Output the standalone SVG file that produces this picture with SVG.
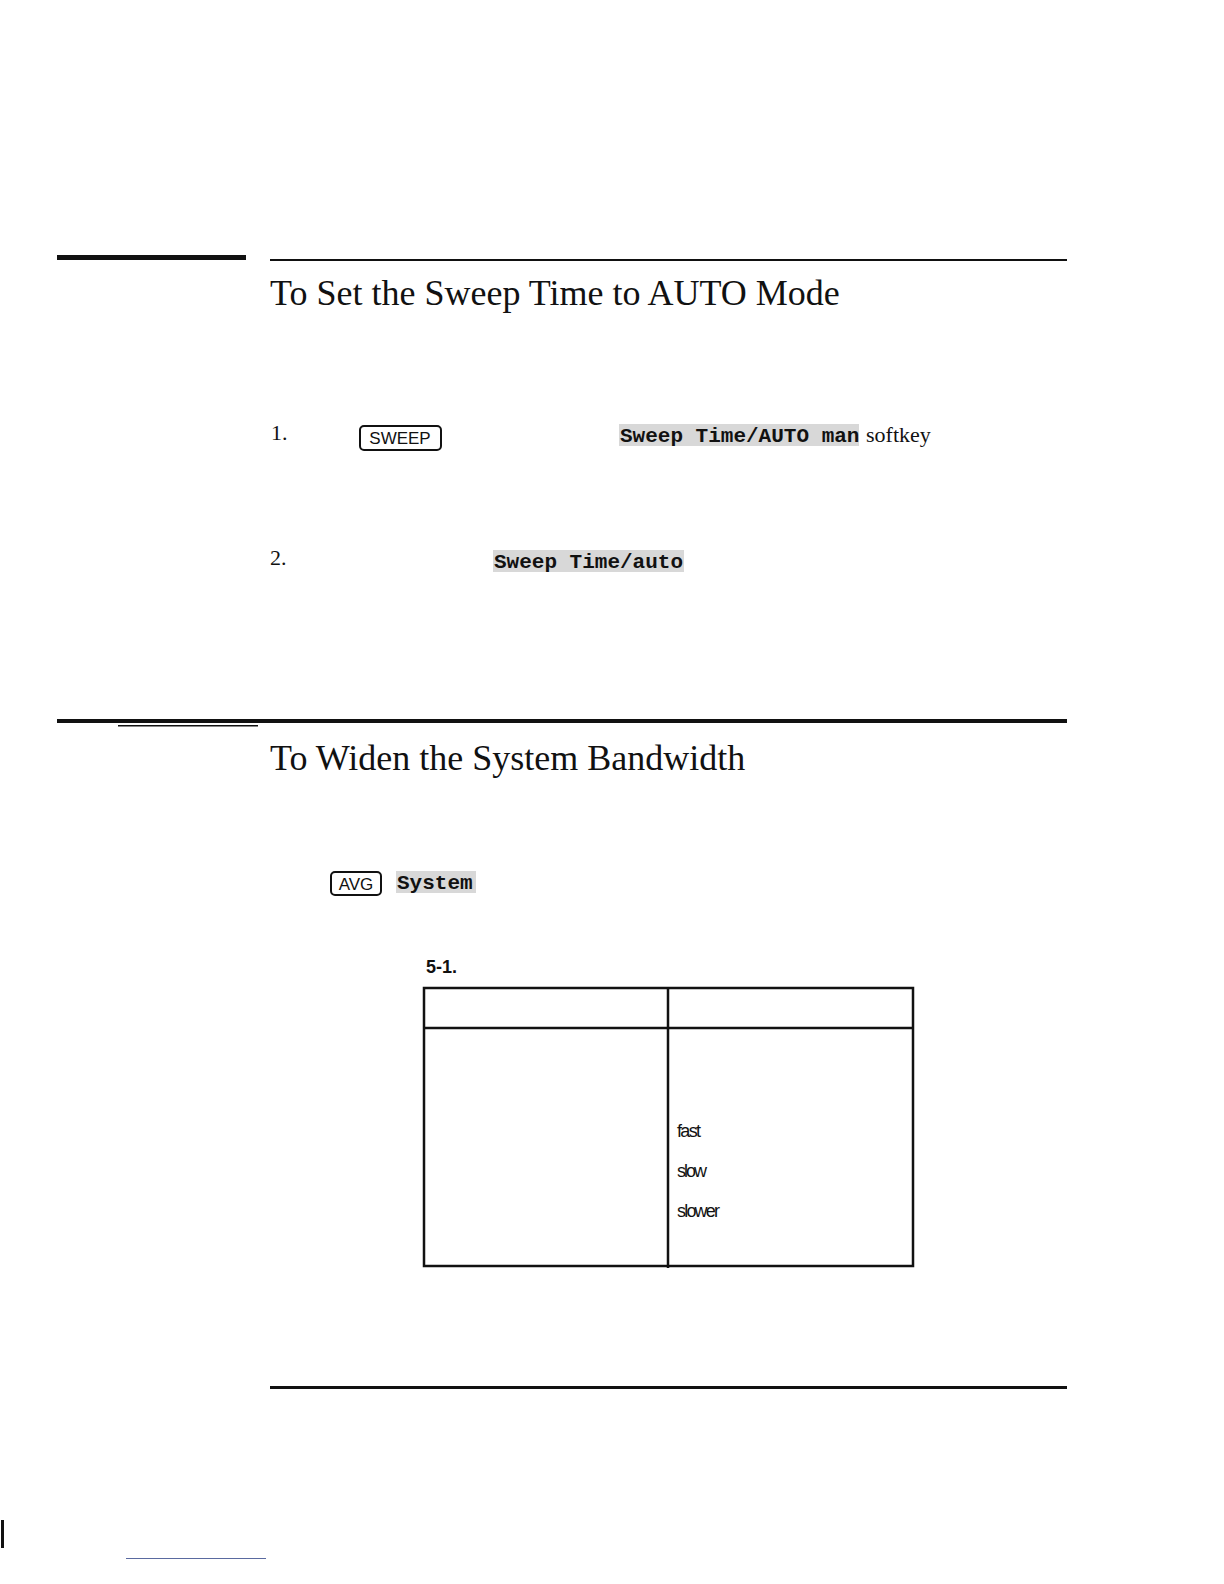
<svg xmlns="http://www.w3.org/2000/svg" width="1224" height="1584" viewBox="0 0 1224 1584">
<style>
.serif{font-family:"Liberation Serif","Times New Roman",serif;fill:#111}
.title{font-size:36px}
.mono{font-family:"Liberation Mono","Courier New",monospace;font-weight:bold;font-size:21px;fill:#111}
.key{font-family:"Liberation Sans",Arial,sans-serif;font-size:17px;fill:#111}
.cond{font-family:"Liberation Sans Narrow","Liberation Sans",Arial,sans-serif;font-size:18px;fill:#111}
.hl{fill:#d8d8d8}
.box{fill:none;stroke:#111;stroke-width:2}
</style>
<rect width="1224" height="1584" fill="#fff"/>
<rect x="57" y="255" width="189" height="5" fill="#111"/>
<rect x="270" y="259" width="797" height="2" fill="#111"/>
<text class="serif title" x="270" y="305">To Set the Sweep Time to AUTO Mode</text>
<text class="serif" font-size="22" x="271" y="440">1.</text>
<g id="sweep-key"><rect class="box" x="360" y="426" width="81" height="24" rx="4"/><text class="key" x="400" y="444" text-anchor="middle">SWEEP</text></g>
<rect class="hl" x="619" y="424" width="240" height="22"/>
<text class="mono" x="620" y="442">Sweep Time/AUTO man</text>
<text class="serif" font-size="22" x="866" y="442">softkey</text>
<text class="serif" font-size="22" x="270" y="565">2.</text>
<rect class="hl" x="493" y="550" width="191" height="22"/>
<text class="mono" x="494" y="568">Sweep Time/auto</text>
<rect x="57" y="719" width="1010" height="4" fill="#111"/>
<rect x="118" y="725" width="140" height="1.5" fill="#111"/>
<text class="serif title" x="270" y="770">To Widen the System Bandwidth</text>
<g id="avg-key"><rect class="box" x="331" y="872" width="50" height="23" rx="4"/><text class="key" x="356" y="890" text-anchor="middle">AVG</text></g>
<rect class="hl" x="396" y="871" width="80" height="22"/>
<text class="mono" x="397" y="889">System</text>
<text class="cond" font-weight="bold" font-size="19" x="426" y="973">5-1.</text>
<g id="table" stroke="#111" stroke-width="2.5" fill="none">
<rect x="424" y="988" width="489" height="278"/>
<line x1="424" y1="1028" x2="913" y2="1028"/>
<line x1="668" y1="988" x2="668" y2="1268"/>
</g>
<text class="cond" x="677" y="1137" textLength="24">fast</text>
<text class="cond" x="677" y="1177" textLength="30">slow</text>
<text class="cond" x="677" y="1217" textLength="43">slower</text>
<rect x="270" y="1386" width="797" height="3" fill="#111"/>
<rect x="1" y="1520" width="3" height="28" fill="#111"/>
<rect x="126" y="1558" width="140" height="1" fill="#5a6aa0"/>
</svg>
